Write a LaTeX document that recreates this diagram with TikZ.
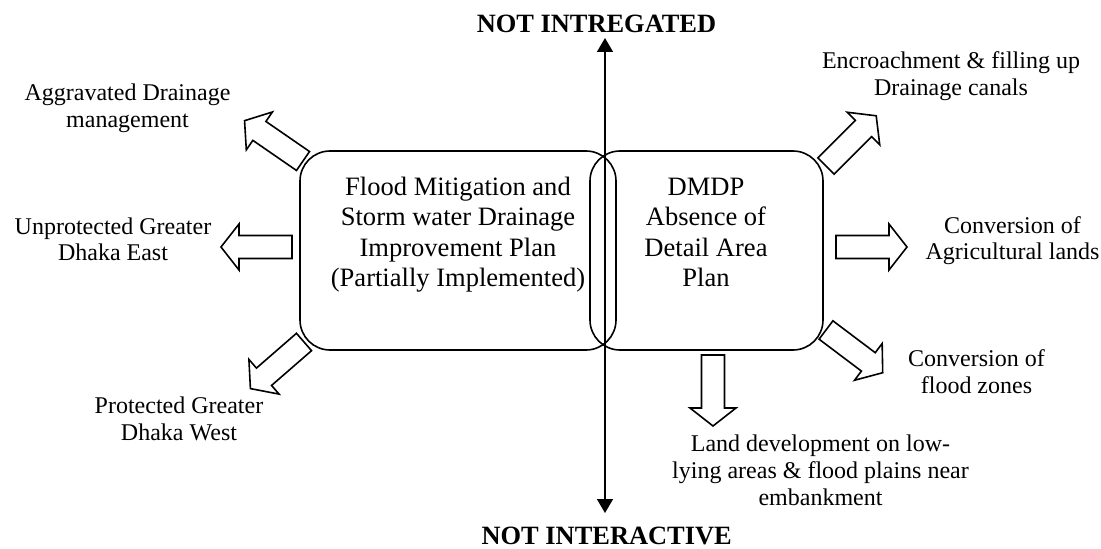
\documentclass[tikz,border=0pt]{standalone}
\usepackage{fontspec}
\setmainfont{Liberation Serif}
\usetikzlibrary{arrows.meta}

% one drawing unit = one pixel of a 1101 x 549 canvas, y pointing down;
% multi-line texts are placed by the baseline of their last line
\tikzset{
  x=0.75pt, y=-0.75pt,
  outline/.style={draw=black, line width=1.2pt},
  planbox/.style={outline, rounded corners=22.5pt, inner sep=0pt,
                  minimum height=149.25pt},
  plantext/.style={align=center, inner sep=0pt, anchor=base,
                   font=\fontsize{19.9pt}{23pt}\selectfont},
  sidetext/.style={align=center, inner sep=0pt, anchor=base,
                   font=\fontsize{18pt}{20pt}\selectfont},
  axistitle/.style={inner sep=0pt, anchor=base,
                    font=\bfseries\fontsize{19.8pt}{23pt}\selectfont},
  axisline/.style={line width=1.2pt,
                   {Triangle[length=10.5pt,width=12pt]}-{Triangle[length=10.5pt,width=12pt]}},
  blockarrow/.pic={
    \draw[outline, fill=white, line join=miter]
      (0,-11.5) -- (53,-11.5) -- (53,-23) -- (71,0) -- (53,23)
      -- (53,11.5) -- (0,11.5) -- cycle;
  }
}

\begin{document}
\begin{tikzpicture}
\useasboundingbox (0,0) rectangle (1101,549);

% the two plans, overlapping at the axis
\node[planbox, minimum width=237pt] (flood) at (458,250.5) {};
\node[planbox, minimum width=174.75pt] (dmdp) at (706.5,250.5) {};

\node[plantext] (floodtext) at (458,287)
  {Flood Mitigation and\\Storm water Drainage\\Improvement Plan\\(Partially Implemented)};
\node[plantext] (dmdptext) at (706,287)
  {DMDP\\Absence of\\Detail Area\\Plan};

% vertical axis with its two titles
\node[axistitle] (integ) at (596.5,33) {NOT INTREGATED};
\node[axistitle] (inter) at (606.7,544.5) {NOT INTERACTIVE};
\coordinate (axtop) at (605,38);
\coordinate (axbot) at (605,513);
\draw[axisline] (axbot) -- (axtop);

% consequences of the flood mitigation plan
\pic[rotate=145.4] at (303,161) {blockarrow};
\pic[rotate=180] at (292,247) {blockarrow};
\pic[rotate=221] at (304,342) {blockarrow};

\node[sidetext] (aggr) at (127.5,127.5) {Aggravated Drainage\\management};
\node[sidetext] (east) at (113,261) {Unprotected Greater\\Dhaka East};
\node[sidetext] (west) at (179,440.5) {Protected Greater\\Dhaka West};

% consequences of the missing detail area plan
\pic[rotate=45] at (826,166) {blockarrow};
\pic[rotate=0] at (836,247) {blockarrow};
\pic[rotate=-37] at (826,330) {blockarrow};
\pic[rotate=-90] at (713,355) {blockarrow};

\node[sidetext] (encr) at (951,95.5) {Encroachment \& filling up\\Drainage canals};
\node[sidetext] (agri) at (1012.5,260) {Conversion of\\Agricultural lands};
\node[sidetext] (fzone) at (976.5,393) {Conversion of\\flood zones};
\node[sidetext] (lowl) at (820.5,505)
  {Land development on low-\\lying areas \& flood plains near\\embankment};
\end{tikzpicture}
\end{document}
